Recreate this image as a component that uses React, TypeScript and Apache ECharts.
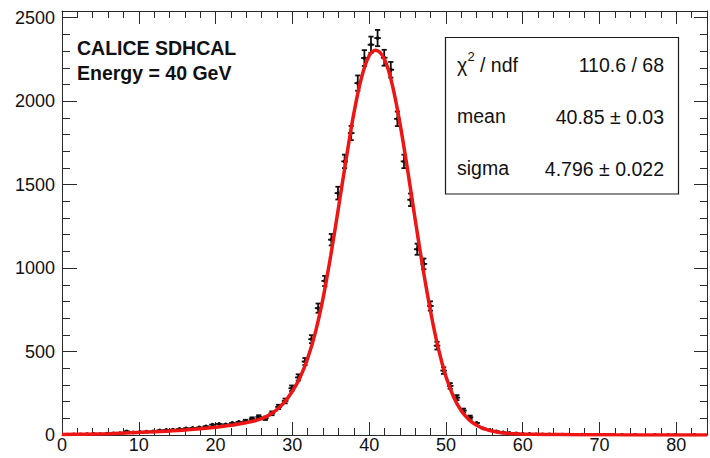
import React, { useEffect, useRef } from "react";
import * as echarts from "echarts";

// Histogram binning (bin centres start at binStart, spaced by binWidth)
const binStart = 0.68;
const binWidth = 0.86;

// Bin contents
const counts = [
  2, 3, 4, 5, 6, 5, 8, 9, 11, 22,
  16, 18, 20, 22, 28, 30, 32, 36, 40, 42,
  45, 52, 62, 66, 64, 72, 78, 82, 96, 108,
  100, 130, 168, 204, 280, 345, 440, 574, 760, 923,
  1170, 1449, 1639, 1809, 2108, 2258, 2338, 2378, 2260, 2188,
  1894, 1639, 1409, 1113, 1025, 773, 535, 386, 294, 224,
  146, 106, 72, 40, 30, 22, 16, 12, 9, 7,
  6, 4, 3, 3, 2, 2, 2, 1, 2, 1,
  1, 1, 1, 0, 1, 0, 1, 0, 0, 1,
  0, 1, 1, 0, 0, 1, 0,
];

// Error bar half-lengths
const errors = [
  1.4, 1.7, 2, 2.2, 2.4, 2.2, 2.8, 3, 3.3, 4.7,
  4, 4.2, 4.5, 4.7, 5.3, 5.5, 5.7, 6, 6.3, 6.5,
  6.7, 7.2, 7.9, 8.1, 8, 8.5, 8.8, 9.1, 9.8, 10.4,
  10, 11.4, 13, 14.3, 16.7, 18.6, 21, 24, 27.6, 30.4,
  34.2, 38.1, 40.5, 42.5, 45.9, 47.5, 48.4, 48.8, 47.5, 46.8,
  43.5, 40.5, 37.5, 33.4, 32, 27.8, 23.1, 19.6, 17.1, 15,
  12.1, 10.3, 8.5, 6.3, 5.5, 4.7, 4, 3.5, 3, 2.6,
  2.4, 2, 1.7, 1.7, 1.4, 1.4, 1.4, 1, 1.4, 1,
  1, 1, 1, 0, 1, 0, 1, 0, 0, 1,
  0, 1, 1, 0, 0, 1, 0,
];

// Fit curve
const fitX = [0, 3, 6, 9, 12, 15, 18, 20, 22, 24, 25, 26, 27, 28, 29, 30, 31, 32, 33, 34, 35, 36, 37, 38, 39, 40, 40.85, 42, 43, 44, 45, 46, 47, 48, 49, 50, 51, 52, 53, 54, 55, 56, 57, 58, 59, 60, 63, 67, 72, 78, 84];
const fitY = [3, 5, 8, 13, 19, 27, 38, 47, 58, 74, 84, 98, 120, 153, 198, 262, 345, 460, 615, 820, 1075, 1360, 1650, 1925, 2140, 2272, 2305, 2250, 2100, 1870, 1590, 1290, 1000, 740, 520, 350, 228, 145, 92, 58, 37, 24, 15, 10, 7, 5, 3, 2, 1, 0.5, 0.3];

// Axes
const xMin = 0;
const xMax = 84;
const xMajor = 10;
const xMinor = 2;
const yMin = 0;
const yMax = 2540;
const yMajor = 500;
const yMinor = 100;

// Texts
const titleLines = ["CALICE SDHCAL", "Energy = 40 GeV"];
const statNames = ["mean", "sigma"];
const chi2Value = "110.6 / 68";
const statValues = ["40.85 \u00b1 0.03", "4.796 \u00b1 0.022"];

const FONT = '"Liberation Sans", Arial, Helvetica, sans-serif';
const AX = "#2a2a2a";
const SF = 19.5;

export default function App() {
  const ref = useRef<HTMLDivElement>(null);
  useEffect(() => {
    const chart = echarts.init(ref.current!, null, { renderer: "svg" });
    const pts = counts
      .map((c, i) => [binStart + i * binWidth, c, errors[i]])
      .filter((p) => p[1] > 0);
    const fit = fitX.map((x, i) => [x, fitY[i]]);

    const xBase = {
      type: "value",
      min: xMin,
      max: xMax,
      gridIndex: 0,
      splitLine: { show: false },
    };
    const yBase = {
      type: "value",
      min: yMin,
      max: yMax,
      gridIndex: 0,
      splitLine: { show: false },
    };

    const txt = (text: string, x: number, y: number, size: number, align: string, bold = false) => ({
      type: "text",
      x,
      y,
      z: 21,
      style: {
        text,
        font: `${bold ? "bold " : ""}${size}px ${FONT}`,
        fill: "#111",
        align,
        verticalAlign: "middle",
      },
    });

    const option: any = {
      animation: false,
      grid: { left: 62, right: 2, top: 11, bottom: 23, containLabel: false },
      xAxis: [
        {
          ...xBase,
          position: "bottom",
          interval: xMajor,
          axisLine: { show: true, onZero: false, lineStyle: { color: AX, width: 1 } },
          axisTick: { show: true, inside: true, length: 13, lineStyle: { color: AX, width: 1 } },
          axisLabel: {
            show: true,
            fontSize: 18,
            fontFamily: FONT,
            color: "#111",
            margin: 1,
            formatter: (v: number) => (v % xMajor === 0 ? String(v) : ""),
          },
        },
        {
          ...xBase,
          position: "bottom",
          interval: xMinor,
          axisLine: { show: false, onZero: false },
          axisTick: { show: true, inside: true, length: 7, lineStyle: { color: AX, width: 1 } },
          axisLabel: { show: false },
        },
        {
          ...xBase,
          position: "top",
          interval: xMajor,
          axisLine: { show: true, onZero: false, lineStyle: { color: AX, width: 1 } },
          axisTick: { show: true, inside: true, length: 13, lineStyle: { color: AX, width: 1 } },
          axisLabel: { show: false },
        },
        {
          ...xBase,
          position: "top",
          interval: xMinor,
          axisLine: { show: false, onZero: false },
          axisTick: { show: true, inside: true, length: 7, lineStyle: { color: AX, width: 1 } },
          axisLabel: { show: false },
        },
      ],
      yAxis: [
        {
          ...yBase,
          position: "left",
          interval: yMajor,
          axisLine: { show: true, onZero: false, lineStyle: { color: AX, width: 1 } },
          axisTick: { show: true, inside: true, length: 15, lineStyle: { color: AX, width: 1 } },
          axisLabel: {
            show: true,
            fontSize: 18,
            fontFamily: FONT,
            color: "#111",
            margin: 7,
            formatter: (v: number) => (v % yMajor === 0 ? String(v) : ""),
          },
        },
        {
          ...yBase,
          position: "left",
          interval: yMinor,
          axisLine: { show: false, onZero: false },
          axisTick: { show: true, inside: true, length: 8, lineStyle: { color: AX, width: 1 } },
          axisLabel: { show: false },
        },
        {
          ...yBase,
          position: "right",
          interval: yMajor,
          axisLine: { show: true, onZero: false, lineStyle: { color: AX, width: 1 } },
          axisTick: { show: true, inside: true, length: 13, lineStyle: { color: AX, width: 1 } },
          axisLabel: { show: false },
        },
        {
          ...yBase,
          position: "right",
          interval: yMinor,
          axisLine: { show: false, onZero: false },
          axisTick: { show: true, inside: true, length: 7, lineStyle: { color: AX, width: 1 } },
          axisLabel: { show: false },
        },
      ],
      series: [
        {
          type: "custom",
          xAxisIndex: 0,
          yAxisIndex: 0,
          data: pts,
          encode: { x: 0, y: 1 },
          clip: true,
          z: 3,
          renderItem: (params: any, api: any) => {
            const x = api.value(0);
            const y = api.value(1);
            const e = api.value(2);
            const c = api.coord([x, y]);
            const l = api.coord([x - binWidth / 2, y]);
            const r = api.coord([x + binWidth / 2, y]);
            const t = api.coord([x, y + e]);
            const b = api.coord([x, y - e]);
            const st = { stroke: "#111", lineWidth: 1.8 };
            const children: any[] = [
              { type: "line", shape: { x1: l[0], y1: c[1], x2: r[0], y2: c[1] }, style: st },
              { type: "line", shape: { x1: c[0], y1: t[1], x2: c[0], y2: b[1] }, style: st },
              { type: "circle", shape: { cx: c[0], cy: c[1], r: 1.9 }, style: { fill: "#111" } },
            ];
            if (b[1] - t[1] > 3) {
              children.push(
                { type: "line", shape: { x1: c[0] - 2.6, y1: t[1], x2: c[0] + 2.6, y2: t[1] }, style: st },
                { type: "line", shape: { x1: c[0] - 2.6, y1: b[1], x2: c[0] + 2.6, y2: b[1] }, style: st }
              );
            }
            return { type: "group", children };
          },
        },
        {
          type: "line",
          xAxisIndex: 0,
          yAxisIndex: 0,
          data: fit,
          smooth: 0.35,
          symbol: "none",
          clip: true,
          z: 5,
          lineStyle: { color: "#ee1515", width: 3.5 },
        },
      ],
      graphic: [
        txt(titleLines[0], 77, 48, 19.5, "left", true),
        txt(titleLines[1], 77, 73, 19.5, "left", true),
        {
          type: "rect",
          z: 20,
          shape: { x: 445.5, y: 37.5, width: 233, height: 156.5 },
          style: { fill: "#fff", stroke: "#1a1a1a", lineWidth: 1.2 },
        },
        txt("\u03c7", 457, 64.5, SF, "left"),
        txt("2", 467.5, 56.5, 13, "left"),
        txt("/ ndf", 480, 64.5, SF, "left"),
        txt(chi2Value, 664, 64.5, SF, "right"),
        txt(statNames[0], 457, 116, SF, "left"),
        txt(statValues[0], 664, 116.5, SF, "right"),
        txt(statNames[1], 457, 168, SF, "left"),
        txt(statValues[1], 664, 168.5, SF, "right"),
      ],
    };
    chart.setOption(option);
    return () => chart.dispose();
  }, []);
  return (
    <div
      ref={ref}
      style={{ position: "absolute", left: 0, top: 0, width: 710, height: 458, background: "#fff" }}
    />
  );
}
